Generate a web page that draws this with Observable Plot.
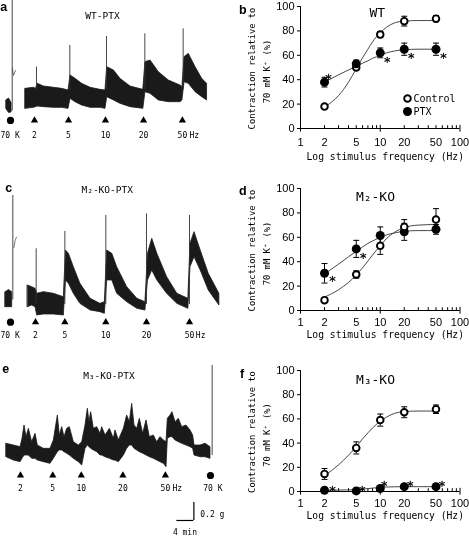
<!DOCTYPE html>
<html><head><meta charset="utf-8">
<script src="https://cdn.jsdelivr.net/npm/d3@7"></script>
<script src="https://cdn.jsdelivr.net/npm/@observablehq/plot@0.6"></script>
<style>
html,body{margin:0;padding:0;background:#fff;}
#fig{position:relative;width:469px;height:536px;overflow:hidden;background:#fff;will-change:transform;}
.panel{position:absolute;}
.panel svg{overflow:visible;display:block;}
</style></head><body><div id="fig"></div>
<script>
// ---------- Dose-response data (right panels) ----------
const freqs = [2, 5, 10, 20, 50];
const wtControl = [18, 50, 77, 88, 90];
const wtControlErr = [1.5, 2, 2.5, 4, 2.5];
const wtPtx = [38, 53, 62, 65, 65];
const wtPtxErr = [4, 3, 4, 5, 5];
const wtSigIdx = [0, 2, 3, 4];
const m2Control = [8.5, 29.5, 53, 68.5, 74.5];
const m2ControlErr = [2, 3, 7, 6, 9];
const m2Ptx = [30.5, 50.5, 61.5, 64.5, 66.5];
const m2PtxErr = [8, 7, 7, 7, 4];
const m2SigIdx = [0, 1];
const m3Control = [14.5, 36, 59, 65.5, 68];
const m3ControlErr = [4.5, 5, 5, 4.5, 3.5];
const m3Ptx = [1, 0.5, 2.5, 4, 4];
const m3PtxErr = [0.5, 0.5, 1, 1, 1];
const m3SigIdx = [0, 1, 2, 3, 4];
// fitted curves
const fitFreqs = [2, 3, 4, 5, 6, 7, 8, 10, 12, 15, 20, 30, 50];
const wtControlFit = [17.5, 27, 38, 49, 58, 65, 71, 78.5, 83, 86.5, 88, 88.5, 88.5];
const wtPtxFit = [38, 44, 48, 51, 53.5, 55.5, 57.5, 60, 62, 63.5, 64.5, 65, 65];
const m2ControlFit = [11, 17, 23, 29, 35, 40.5, 45.5, 53, 59, 64, 68, 70, 70.5];
const m2PtxFit = [30, 38, 44, 48.5, 52, 55, 57, 60, 62, 63.5, 65, 65.5, 65.5];
const m3ControlFit = [13, 22, 30, 37, 43.5, 48.5, 52.5, 58, 61.5, 64.5, 66, 66.5, 66.5];
const m3PtxFit = [1, 1.2, 1.4, 1.6, 2, 2.4, 2.8, 3.4, 3.7, 3.9, 4, 4, 4];
const xTicks = [1, 2, 5, 10, 20, 50, 100];
const yTicks = [0, 20, 40, 60, 80, 100];

// ---------- Tension traces (left panels): time in min, tension in g ----------
const stimLabels = ["2", "5", "10", "20", "50"];
// a: WT-PTX
const aTraceT = [5.88, 7.84, 8.31, 8.78, 10.2, 12.55, 14.5, 16.0, 16.47, 17.65, 19.2, 21.2, 23.5, 24.7, 25.1, 26.7, 28.2, 30.6, 33.6, 34.1, 35.3, 37.25, 39.6, 42.35, 42.8, 43.3, 44.3, 45.9, 47.45, 48.6];
const aTraceHi = [0.907, 0.919, 0.907, 0.963, 0.933, 0.919, 0.907, 0.889, 1.056, 1.019, 0.963, 0.919, 0.896, 0.889, 1.148, 1.111, 1.019, 0.933, 0.896, 1.204, 1.222, 1.093, 1.0, 0.944, 0.926, 1.259, 1.296, 1.148, 1.019, 0.963];
const aTraceLo = [0.685, 0.696, 0.704, 0.711, 0.704, 0.696, 0.696, 0.685, 0.796, 0.759, 0.722, 0.696, 0.696, 0.685, 0.815, 0.778, 0.741, 0.704, 0.685, 0.870, 0.852, 0.778, 0.759, 0.759, 0.778, 0.981, 0.963, 0.870, 0.815, 0.778];
const aSpikeT = [8.47, 16.31, 24.94, 33.96, 42.98];
const aSpikePeak = [1.148, 1.389, 1.489, 1.519, 1.574];
const aStimT = [8.0, 16.0, 24.7, 33.65, 42.8];
const aKT = [1.4, 2.0, 2.6];
const aKHi = [0.78, 0.80, 0.75];
const aKLo = [0.68, 0.64, 0.645];
const aKTailT = [2.82, 3.06, 3.53];
const aKTailG = [1.133, 1.056, 1.111];
// c: M2-KO-PTX
const cTraceT = [6.43, 7.45, 8.24, 8.63, 10.2, 12.55, 14.9, 15.4, 16.1, 17.25, 18.8, 21.2, 23.5, 24.55, 25.1, 26.3, 27.45, 29.8, 32.2, 34.1, 34.7, 35.7, 36.9, 39.2, 41.6, 44.2, 44.7, 45.65, 47.1, 49.0, 51.5];
const cTraceHi = [0.611, 0.593, 0.574, 0.519, 0.537, 0.519, 0.481, 1.0, 0.963, 0.815, 0.630, 0.463, 0.407, 0.426, 1.0, 0.963, 0.815, 0.593, 0.463, 0.426, 0.963, 1.130, 0.963, 0.704, 0.519, 0.463, 1.074, 1.204, 1.0, 0.741, 0.519];
const cTraceLo = [0.370, 0.389, 0.370, 0.278, 0.289, 0.289, 0.278, 0.667, 0.630, 0.519, 0.407, 0.333, 0.315, 0.296, 0.667, 0.667, 0.519, 0.426, 0.352, 0.333, 0.667, 0.778, 0.667, 0.519, 0.407, 0.352, 0.815, 0.926, 0.778, 0.556, 0.389];
const cSpikeT = [8.39, 15.14, 24.78, 34.35, 44.47];
const cSpikePeak = [1.019, 1.211, 1.389, 1.407, 1.389];
const cStimT = [8.24, 15.14, 24.78, 34.35, 44.47];
const cKT = [1.18, 2.0, 2.75];
const cKHi = [0.537, 0.56, 0.537];
const cKLo = [0.37, 0.37, 0.37];
const cKTailT = [3.14, 3.45, 3.76];
const cKTailG = [1.03, 1.111, 1.148];
// e: M3-KO-PTX
const eTraceT = [1.41, 3.14, 4.71, 5.18, 5.65, 6.12, 6.67, 7.45, 8.24, 8.78, 10.2, 11.76, 12.55, 13.49, 13.96, 14.51, 15.06, 15.69, 16.31, 17.25, 18.43, 19.22, 20.0, 20.55, 20.94, 21.33, 21.96, 22.75, 23.53, 23.92, 24.71, 25.73, 26.67, 27.06, 27.84, 29.02, 29.8, 30.43, 30.98, 31.53, 32.16, 32.78, 33.57, 34.35, 35.14, 36.08, 36.86, 37.65, 38.43, 39.06, 39.37, 40.0, 40.47, 41.18, 41.96, 42.75, 43.76, 44.71, 45.33, 45.65, 47.06, 48.24, 49.41];
const eTraceHi = [1.030, 1.011, 0.993, 1.085, 1.233, 1.104, 1.196, 1.048, 1.141, 1.011, 0.974, 0.974, 1.067, 1.344, 1.122, 1.215, 1.104, 1.196, 1.215, 1.048, 1.011, 1.048, 1.233, 1.419, 1.270, 1.381, 1.196, 1.215, 1.141, 1.215, 1.122, 1.196, 1.085, 1.178, 1.067, 1.196, 1.344, 1.270, 1.474, 1.233, 1.196, 1.307, 1.141, 1.289, 1.104, 1.122, 1.048, 1.104, 1.067, 1.048, 1.307, 1.344, 1.381, 1.270, 1.307, 1.215, 1.233, 1.178, 1.122, 1.011, 1.011, 1.030, 0.993];
const eTraceLo = [0.881, 0.844, 0.826, 0.863, 0.9, 0.9, 0.9, 0.863, 0.863, 0.844, 0.826, 0.807, 0.863, 0.937, 0.956, 0.956, 0.937, 0.919, 0.9, 0.863, 0.826, 0.789, 0.974, 1.011, 0.993, 0.974, 0.956, 0.937, 0.9, 0.9, 0.881, 0.863, 0.844, 0.844, 0.826, 0.9, 0.974, 1.011, 1.011, 0.974, 0.956, 0.937, 0.919, 0.9, 0.881, 0.863, 0.844, 0.826, 0.807, 0.770, 1.085, 1.104, 1.104, 1.067, 1.048, 1.030, 1.011, 0.993, 0.974, 0.9, 0.881, 0.881, 0.863];
const eStimT = [4.7, 12.3, 19.0, 28.8, 38.8];
const scaleBarMin = 4;
const scaleBarG = 0.2;

// ---------- layout helpers ----------
const MONO = "'DejaVu Sans Mono', 'Liberation Mono', monospace";
const SANS = "'Liberation Sans', Arial, 'DejaVu Sans', sans-serif";
const BOLD = "'Liberation Sans', Arial, sans-serif";
const PX_PER_MIN = 17 / 4;   // 4 min scale bar = 17 px
const PX_PER_G = 18 / 0.2;   // 0.2 g scale bar = 18 px
const fig = document.getElementById("fig");
function place(node, left, top) {
  const d = document.createElement("div");
  d.className = "panel";
  d.style.left = left + "px";
  d.style.top = top + "px";
  d.appendChild(node);
  fig.appendChild(d);
}
const ink = "#1a1a1a";
const T = (s) => () => s;

function tracePanel(p) {
  const W = 234;
  const band = p.t.map((t, i) => ({t, lo: p.lo[i], hi: p.hi[i]}));
  const stims = p.stimT.map((t, i) => ({t, label: stimLabels[i]}));
  const marks = [
    Plot.areaY(band, {x: "t", y1: "lo", y2: "hi", fill: ink, stroke: ink, strokeWidth: 0.8}),
  ];
  if (p.kT) {
    const kband = p.kT.map((t, i) => ({t, lo: p.kLo[i], hi: p.kHi[i]}));
    marks.push(Plot.areaY(kband, {x: "t", y1: "lo", y2: "hi", fill: ink, stroke: ink, strokeWidth: 0.8}));
  }
  if (p.kTailT) {
    marks.push(Plot.line(p.kTailT.map((t, i) => ({t, g: p.kTailG[i]})), {x: "t", y: "g", stroke: "#555", strokeWidth: 0.8}));
  }
  if (p.spikeT) {
    const spikes = p.spikeT.map((t, i) => ({t, peak: p.spikePeak[i]}));
    marks.push(Plot.ruleX(spikes, {x: "t", y1: p.spikeBase, y2: "peak", stroke: "#333", strokeWidth: 0.9}));
  }
  marks.push(
    Plot.ruleX([p.kSpikeT], {x: (d) => d, y1: p.kSpikeFrom, y2: p.kSpikePeak, stroke: "#333", strokeWidth: 0.9}),
    Plot.dot(stims, {x: "t", y: p.markY, symbol: "triangle", r: 2.7, fill: "black"}),
    Plot.dot([p.kMarkT], {x: (d) => d, y: p.markY, r: 3.6, fill: "black"}),
    Plot.text(stims, {x: "t", y: p.labelY, text: "label", fill: "black", fontFamily: MONO, fontSize: 8}),
    Plot.text(["Hz"], {x: p.hzT, y: p.labelY, text: (d) => d, fill: "black", fontFamily: MONO, fontSize: 8}),
    Plot.text(["70 K"], {x: p.kLabelT, y: p.labelY, textAnchor: p.kLabelAnchor, text: (d) => d, fill: "black", fontFamily: MONO, fontSize: 8}),
    Plot.text([p.title], {x: p.titleT, y: p.titleY, text: (d) => d, fill: "black", fontFamily: MONO, fontSize: 9.5}),
    Plot.text([p.letter], {x: p.letterT, y: p.letterG, text: (d) => d, fill: "black", fontFamily: BOLD, fontWeight: "bold", fontSize: 12.5})
  );
  if (p.extra) marks.push(...p.extra);
  return Plot.plot({
    width: W, height: p.height, margin: 0,
    x: {domain: [0, W / PX_PER_MIN], axis: null},
    y: {domain: [0, p.height / PX_PER_G], axis: null},
    style: {overflow: "visible", background: "transparent"},
    marks
  });
}

// x position (Hz, log scale) for a pixel offset from the y axis line
const ML = 66, MR = 9.5, PX_PER_DECADE = (235 - ML - MR) / 2;
const xAt = (px) => Math.pow(10, px / PX_PER_DECADE);

function dosePanel(p) {
  const pts = freqs.map((f, i) => ({f, c: p.control[i], ce: p.controlErr[i], p: p.ptx[i], pe: p.ptxErr[i]}));
  const fit = fitFreqs.map((f, i) => ({f, c: p.controlFit[i], p: p.ptxFit[i]}));
  const capSym = {draw(ctx, size) { const w = Math.sqrt(size / Math.PI); ctx.moveTo(-w, 0); ctx.lineTo(w, 0); }};
  const errMarks = (k, e) => [
    Plot.ruleX(pts, {x: "f", y1: (d) => d[k] - d[e], y2: (d) => d[k] + d[e], stroke: "black", strokeWidth: 1}),
    Plot.dot(pts, {x: "f", y: (d) => d[k] + d[e], symbol: capSym, r: 3, fill: "none", stroke: "black", strokeWidth: 1}),
    Plot.dot(pts, {x: "f", y: (d) => d[k] - d[e], symbol: capSym, r: 3, fill: "none", stroke: "black", strokeWidth: 1})
  ];
  const ctrlDots = Plot.dot(pts, {x: "f", y: "c", r: 3.3, fill: "white", stroke: "black", strokeWidth: 1.9});
  const ptxDots = Plot.dot(pts, {x: "f", y: "p", r: 4.5, fill: "black"});
  const minor = [2, 3, 4, 5, 6, 7, 8, 9, 20, 30, 40, 50, 60, 70, 80, 90];
  const uPerPx = 100 / (p.height - p.mt - p.mb);
  const midY = 50;
  const marks = [
    Plot.ruleY([0], {x1: 1, x2: 100, stroke: "black"}),
    Plot.ruleX([1], {y1: 0, y2: 100, stroke: "black"}),
    Plot.ruleX([1, 10, 100], {y1: -3, y2: 2.6, stroke: "black"}),
    Plot.ruleX(minor, {y1: 0, y2: 2.3, stroke: "black"}),
    Plot.axisY({ticks: yTicks, tickSize: 3, tickPadding: 3, label: null, fill: "black", fontFamily: SANS, fontSize: 11}),
    Plot.axisX({ticks: xTicks, tickSize: 0, tickPadding: p.xPad, tickFormat: (d) => String(d), label: null, fill: "black", fontFamily: SANS, fontSize: 11}),
    Plot.line(fit, {x: "f", y: "c", curve: "monotone-x", stroke: "#333", strokeWidth: 0.9}),
    Plot.line(fit, {x: "f", y: "p", curve: "monotone-x", stroke: "#333", strokeWidth: 0.9}),
    ...errMarks("c", "ce"),
    ...errMarks("p", "pe"),
    ...(p.ptxOnTop ? [ctrlDots, ptxDots] : [ptxDots, ctrlDots]),
    ...p.sigIdx.map((i, j) => Plot.text([pts[i]], {x: "f", y: "p", text: T("*"), fill: "black", stroke: "black", strokeWidth: 0.3, dx: p.astOff[j][0], dy: p.astOff[j][1] + 3.6, fontFamily: "'DejaVu Sans', sans-serif", fontSize: 13})),
    Plot.text([p.title], {frameAnchor: "top", dx: p.titleDx, dy: p.titleDy, text: (d) => d, fill: "black", fontFamily: MONO, fontSize: 13}),
    Plot.text([p.letter], {x: xAt(p.letterPx), y: 100 - p.letterDy * uPerPx, text: (d) => d, fill: "black", fontFamily: BOLD, fontWeight: "bold", fontSize: 12.5}),
    Plot.text(["Contraction relative to"], {x: xAt(-48), y: midY - 1 * uPerPx, rotate: -90, text: (d) => d, fill: "black", fontFamily: MONO, fontSize: 8.8}),
    Plot.text(["70 mM K\u207A (%)"], {x: xAt(-33), y: midY - 4 * uPerPx, rotate: -90, text: (d) => d, fill: "black", fontFamily: MONO, fontSize: 8.8}),
    Plot.text(["Log stimulus frequency (Hz)"], {frameAnchor: "bottom", dx: 5, dy: p.xTitleDy, text: (d) => d, fill: "black", fontFamily: MONO, fontSize: 9.7})
  ];
  if (p.legend) {
    const lx = xAt(107);
    marks.push(
      Plot.dot([0], {x: lx, y: 24.6, r: 3.3, fill: "white", stroke: "black", strokeWidth: 1.9}),
      Plot.dot([0], {x: lx, y: 13.9, r: 4.5, fill: "black"}),
      Plot.text(["Control"], {x: lx, y: 24.6, dx: 6, textAnchor: "start", text: (d) => d, fill: "black", fontFamily: MONO, fontSize: 10}),
      Plot.text(["PTX"], {x: lx, y: 13.9, dx: 6, textAnchor: "start", text: (d) => d, fill: "black", fontFamily: MONO, fontSize: 10})
    );
  }
  return Plot.plot({
    width: 235, height: p.height,
    marginLeft: ML, marginRight: MR, marginTop: p.mt, marginBottom: p.mb,
    x: {type: "log", domain: [1, 100]},
    y: {domain: [0, 100]},
    style: {overflow: "visible", background: "transparent", fontFamily: SANS, fontSize: "11px", color: "black"},
    marks
  });
}

// ---------- left panels ----------
place(tracePanel({
  height: 170, t: aTraceT, hi: aTraceHi, lo: aTraceLo,
  spikeT: aSpikeT, spikePeak: aSpikePeak, spikeBase: 0.9,
  stimT: aStimT, kT: aKT, kHi: aKHi, kLo: aKLo, kTailT: aKTailT, kTailG: aKTailG,
  kSpikeT: 2.75, kSpikeFrom: 0.66, kSpikePeak: 1.95, kMarkT: 2.35, kLabelT: 0, kLabelAnchor: "start",
  markY: 0.556, labelY: 0.389, hzT: 45.6,
  title: "WT-PTX", titleT: 24.0, titleY: 1.722,
  letter: "a", letterT: 0.75, letterG: 1.82
}), 0, 0);

place(tracePanel({
  height: 170, t: cTraceT, hi: cTraceHi, lo: cTraceLo,
  spikeT: cSpikeT, spikePeak: cSpikePeak, spikeBase: 0.4,
  stimT: cStimT, kT: cKT, kHi: cKHi, kLo: cKLo, kTailT: cKTailT, kTailG: cKTailG,
  kSpikeT: 2.9, kSpikeFrom: 0.45, kSpikePeak: 1.611, kMarkT: 2.35, kLabelT: 0, kLabelAnchor: "start",
  markY: 0.204, labelY: 0.056, hzT: 47.1,
  title: "M\u2082-KO-PTX", titleT: 25.1, titleY: 1.674,
  letter: "c", letterT: 1.95, letterG: 1.70
}), 0, 170);

place(tracePanel({
  height: 186, t: eTraceT, hi: eTraceHi, lo: eTraceLo,
  stimT: eStimT,
  kSpikeT: 49.8, kSpikeFrom: 0.9, kSpikePeak: 1.9, kMarkT: 49.4, kLabelT: 49.96, kLabelAnchor: "middle",
  markY: 0.678, labelY: 0.530, hzT: 41.6,
  title: "M\u2083-KO-PTX", titleT: 25.5, titleY: 1.789,
  letter: "e", letterT: 1.2, letterG: 1.86,
  extra: [
    Plot.ruleX([45.5], {y1: 0.178, y2: 0.178 + scaleBarG, stroke: "black", strokeWidth: 1.2}),
    Plot.ruleY([0.178], {x1: 45.5 - scaleBarMin, x2: 45.5, stroke: "black", strokeWidth: 1.2}),
    Plot.text([`${scaleBarG} g`], {x: 47.0, y: 0.244, textAnchor: "start", text: (d) => d, fill: "black", fontFamily: MONO, fontSize: 8}),
    Plot.text([`${scaleBarMin} min`], {x: 43.4, y: 0.045, text: (d) => d, fill: "black", fontFamily: MONO, fontSize: 8})
  ]
}), 0, 350);

// ---------- right panels ----------
place(dosePanel({
  height: 170, mt: 6, mb: 42, xPad: 10, xTitleDy: 31,
  control: wtControl, controlErr: wtControlErr, ptx: wtPtx, ptxErr: wtPtxErr,
  controlFit: wtControlFit, ptxFit: wtPtxFit, ptxOnTop: true,
  sigIdx: wtSigIdx, astOff: [[4, -7], [7, 5], [7, 5.5], [7.5, 5]],
  title: "WT", titleDx: -3, titleDy: 1.7,
  letter: "b", letterPx: -57.7, letterDy: 3.2, legend: true
}), 234, 0);

place(dosePanel({
  height: 170, mt: 13, mb: 35, xPad: 8, xTitleDy: 27,
  control: m2Control, controlErr: m2ControlErr, ptx: m2Ptx, ptxErr: m2PtxErr,
  controlFit: m2ControlFit, ptxFit: m2PtxFit, ptxOnTop: false,
  sigIdx: m2SigIdx, astOff: [[8, 3.5], [7, 5.5]],
  title: "M\u2082-KO", titleDx: -4.8, titleDy: 3.7,
  letter: "d", letterPx: -57.7, letterDy: 2
}), 234, 175);

place(dosePanel({
  height: 181, mt: 15, mb: 45, xPad: 7.5, xTitleDy: 27.5,
  control: m3Control, controlErr: m3ControlErr, ptx: m3Ptx, ptxErr: m3PtxErr,
  controlFit: m3ControlFit, ptxFit: m3PtxFit, ptxOnTop: false,
  sigIdx: m3SigIdx, astOff: [[8, -2.7], [6, -3.7], [4, -6], [6, -4], [6, -4.3]],
  title: "M\u2083-KO", titleDx: -4.8, titleDy: 4,
  letter: "f", letterPx: -58.5, letterDy: 3.3
}), 234, 355);
</script></body></html>
